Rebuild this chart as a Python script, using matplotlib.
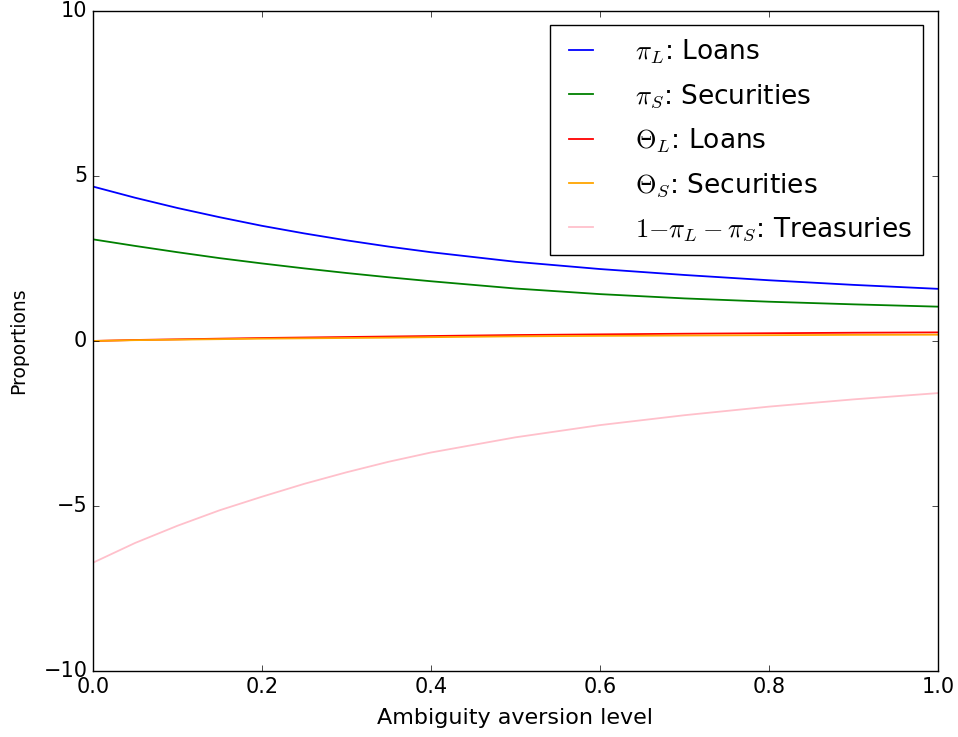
import matplotlib
matplotlib.use("Agg")
import matplotlib.pyplot as plt

plt.style.use("classic")

ambiguity = [0.0, 0.05, 0.1, 0.15, 0.2, 0.25, 0.3, 0.35, 0.4, 0.5, 0.6, 0.7, 0.8, 0.9, 1.0]
pi_loans = [4.68, 4.34, 4.03, 3.75, 3.49, 3.26, 3.05, 2.86, 2.69, 2.40, 2.18, 2.00, 1.84, 1.70, 1.58]
pi_securities = [3.08, 2.88, 2.69, 2.51, 2.35, 2.20, 2.06, 1.93, 1.81, 1.59, 1.42, 1.29, 1.19, 1.11, 1.04]
theta_loans = [0.0, 0.03, 0.05, 0.07, 0.09, 0.105, 0.12, 0.135, 0.15, 0.18, 0.20, 0.22, 0.235, 0.25, 0.26]
theta_securities = [0.0, 0.025, 0.04, 0.055, 0.07, 0.08, 0.09, 0.10, 0.115, 0.14, 0.155, 0.165, 0.175, 0.185, 0.19]
treasuries = [-6.72, -6.12, -5.60, -5.13, -4.72, -4.33, -3.98, -3.66, -3.38, -2.92, -2.55, -2.25, -1.99, -1.77, -1.58]

labels = [r"$\pi_L$: Loans", r"$\pi_S$: Securities", r"$\Theta_L$: Loans",
          r"$\Theta_S$: Securities", r"$1{-}\pi_L-\pi_S$: Treasuries"]
colors = ["b", "g", "r", "orange", "pink"]
series = [pi_loans, pi_securities, theta_loans, theta_securities, treasuries]

fig = plt.figure(figsize=(9.58, 7.37), dpi=100)
ax = fig.add_axes([0.097, 0.0896, 0.882, 0.8955])
for ys, c, lab in zip(series, colors, labels):
    ax.plot(ambiguity, ys, color=c, label=lab, lw=1.3)

ax.set_xlim(0, 1)
ax.set_ylim(-10, 10)
ax.set_yticks([-10, -5, 0, 5, 10])
ax.tick_params(labelsize=15)
ax.set_xlabel("Ambiguity aversion level", fontsize=16, labelpad=8)
ax.set_ylabel("Proportions", fontsize=13.5, labelpad=11)
ax.legend(loc="upper right", fontsize=19, labelspacing=0.62,
          handlelength=1.5, handletextpad=1.3, borderpad=0.44,
          borderaxespad=0.55)
fig.savefig("out.png", dpi=100)
